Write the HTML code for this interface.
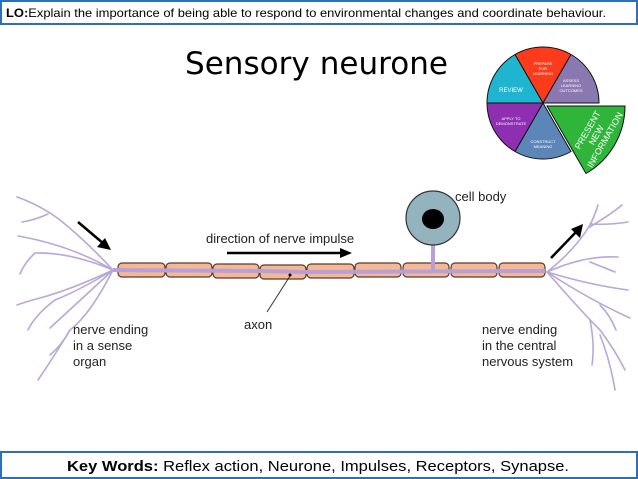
<!DOCTYPE html>
<html><head><meta charset="utf-8"><style>
html,body{margin:0;padding:0;background:#fff;width:638px;height:479px;overflow:hidden}
svg{display:block}
</style></head><body>
<svg width="638" height="479" viewBox="0 0 638 479" xmlns="http://www.w3.org/2000/svg">
<rect x="1" y="1" width="636" height="23" fill="#fff" stroke="#2e6fb5" stroke-width="2"/>
<text x="6" y="17" font-family="Liberation Sans, sans-serif" font-size="12" fill="#000" textLength="600" lengthAdjust="spacingAndGlyphs"><tspan font-weight="bold">LO:</tspan>Explain the importance of being able to respond to environmental changes and coordinate behaviour.</text>
<text x="185" y="74" font-family="DejaVu Sans, Liberation Sans, sans-serif" font-size="31" fill="#000" textLength="263">Sensory neurone</text>
<g stroke="#111" stroke-width="1">
<path d="M543 103 L515 54.5 A56 56 0 0 1 571 54.5 Z" fill="#fb3b1c"/>
<path d="M543 103 L571 54.5 A56 56 0 0 1 599 103 Z" fill="#8a79b0"/>
<path d="M543 103 L571 151.5 A56 56 0 0 1 515 151.5 Z" fill="#5d86b8"/>
<path d="M543 103 L515 151.5 A56 56 0 0 1 487 103 Z" fill="#8d2fb0"/>
<path d="M543 103 L487 103 A56 56 0 0 1 515 54.5 Z" fill="#1fb4cf"/>
<path d="M547 106 L625 106 A78 78 0 0 1 586 173.5 Z" fill="#2fb53a"/>
</g>
<g font-family="Liberation Sans, sans-serif" fill="#fff" text-anchor="middle">
<text x="543" y="65" font-size="4">PREPARE</text><text x="543" y="70" font-size="4">FOR</text><text x="543" y="75" font-size="4">LEARNING</text>
<text x="571" y="82" font-size="4">ASSESS</text><text x="571" y="87" font-size="4">LEARNING</text><text x="571" y="92" font-size="4">OUTCOMES</text>
<text x="511" y="92" font-size="6">REVIEW</text>
<text x="511" y="120" font-size="4">APPLY TO</text><text x="511" y="125" font-size="4">DEMONSTRATE</text>
<text x="543" y="143" font-size="4">CONSTRUCT</text><text x="543" y="148" font-size="4">MEANING</text>
<g transform="translate(598,136) rotate(-60)" font-size="9">
<text x="0" y="-9">PRESENT</text><text x="0" y="1">NEW</text><text x="0" y="11">INFORMATION</text>
</g>
</g>
<g fill="none" stroke="#b7a8d8" stroke-width="1.6" stroke-linecap="round">
<path d="M113 270 Q85 240 60 220 Q40 205 17 197"/>
<path d="M48 214 Q35 220 22 222"/>
<path d="M113 270 Q70 245 18 236"/>
<path d="M113 270 Q70 252 35 253 Q25 262 20 274"/>
<path d="M113 270 Q70 290 40 298 Q25 302 17 305"/>
<path d="M113 270 Q80 290 55 300 Q35 315 28 330"/>
<path d="M113 270 Q75 305 50 328"/>
<path d="M113 270 Q90 315 70 330 Q55 355 38 380"/>
<path d="M70 330 Q62 345 50 355"/>
<path d="M547 272 Q575 250 590 225 Q595 215 598 205"/>
<path d="M588 228 Q610 215 622 205"/>
<path d="M590 224 Q610 225 628 222"/>
<path d="M547 272 Q585 255 618 257"/>
<path d="M590 262 Q605 268 615 272"/>
<path d="M547 272 Q590 285 628 290"/>
<path d="M547 272 Q590 300 630 318"/>
<path d="M600 305 Q610 315 616 330"/>
<path d="M547 272 Q580 310 600 330 Q615 350 625 370"/>
<path d="M590 320 Q595 345 592 365"/>
<path d="M600 335 Q610 360 615 390"/>
</g>
<g fill="#f5b897" stroke="#5a3a2a" stroke-width="1.2">
<rect x="118" y="263" width="47" height="14" rx="4"/>
<rect x="166" y="263" width="46" height="14" rx="4"/>
<rect x="213" y="264" width="46" height="14" rx="4"/>
<rect x="260" y="265" width="46" height="14" rx="4"/>
<rect x="307" y="264" width="47" height="14" rx="4"/>
<rect x="355" y="263" width="46" height="14" rx="4"/>
<rect x="403" y="263" width="46" height="14" rx="4"/>
<rect x="451" y="263" width="46" height="14" rx="4"/>
<rect x="499" y="263" width="46" height="14" rx="4"/>
</g>
<path d="M113 270 L260 271 L306 272 L545 271" stroke="#b7a0d8" stroke-width="4" fill="none"/>
<line x1="433" y1="244" x2="433" y2="271" stroke="#b7a0d8" stroke-width="4"/>
<circle cx="433" cy="218" r="27" fill="#93b3bf" stroke="#333" stroke-width="1.2"/>
<ellipse cx="433" cy="219" rx="11" ry="10" fill="#000"/>
<g stroke="#000" stroke-width="2.5" fill="#000">
<line x1="78" y1="222" x2="104" y2="244"/>
<polygon points="111,250 97,247 105,238" stroke="none"/>
<line x1="551" y1="258" x2="577" y2="231"/>
<polygon points="583,224 580,238 571,229" stroke="none"/>
<line x1="227" y1="253" x2="342" y2="253"/>
<polygon points="352,253 340,248 340,258" stroke="none"/>
</g>
<line x1="267" y1="312" x2="290" y2="276" stroke="#333" stroke-width="1"/>
<circle cx="290" cy="275" r="1.5" fill="#000"/>
<g font-family="Liberation Sans, sans-serif" font-size="13" fill="#222">
<text x="206" y="243">direction of nerve impulse</text>
<text x="455" y="201">cell body</text>
<text x="244" y="329">axon</text>
<text x="73" y="334">nerve ending</text><text x="73" y="350">in a sense</text><text x="73" y="366">organ</text>
<text x="482" y="334">nerve ending</text><text x="482" y="350">in the central</text><text x="482" y="366">nervous system</text>
</g>
<rect x="1" y="452" width="636" height="26" fill="#fff" stroke="#2e6fb5" stroke-width="2"/>
<text x="67" y="471" font-family="Liberation Sans, sans-serif" font-size="15" fill="#000" textLength="502" lengthAdjust="spacingAndGlyphs"><tspan font-weight="bold">Key Words: </tspan>Reflex action, Neurone, Impulses, Receptors, Synapse.</text>
</svg>
</body></html>
